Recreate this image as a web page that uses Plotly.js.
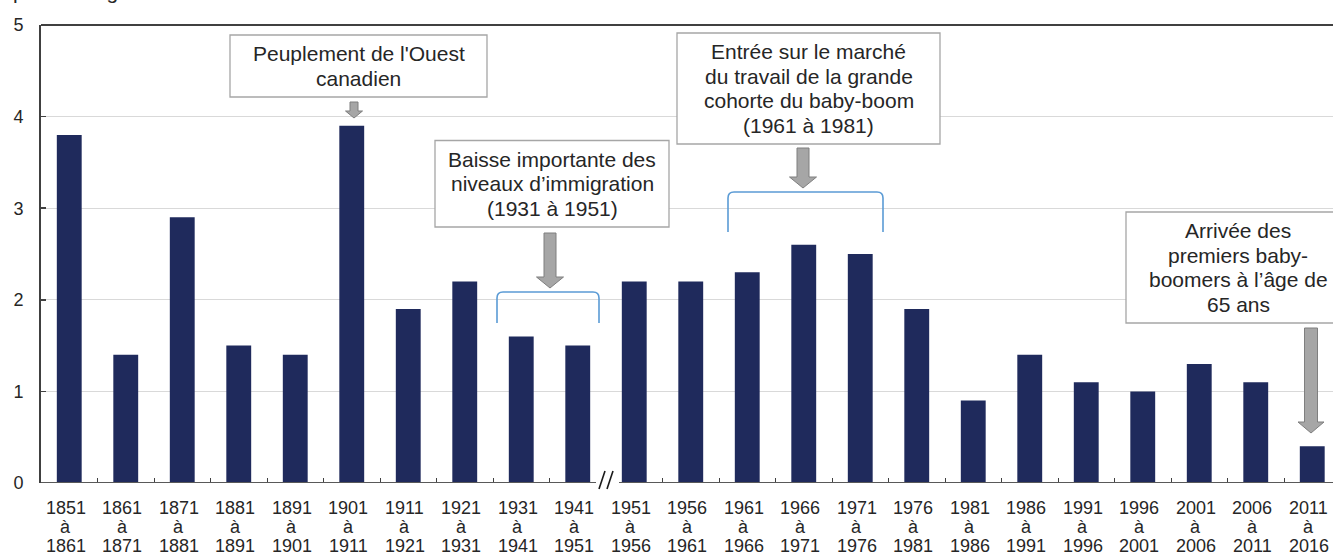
<!DOCTYPE html>
<html>
<head>
<meta charset="utf-8">
<script src="https://cdn.plot.ly/plotly-3.0.1.min.js"></script>
<style>html,body{margin:0;padding:0;background:#fff;overflow:hidden}</style>
</head>
<body>
<div id="chart" style="width:1333px;height:556px"></div>
<script>
// ---- data ----
const periodStart = ["1851","1861","1871","1881","1891","1901","1911","1921","1931","1941","1951","1956","1961","1966","1971","1976","1981","1986","1991","1996","2001","2006","2011"];
const periodEnd   = ["1861","1871","1881","1891","1901","1911","1921","1931","1941","1951","1956","1961","1966","1971","1976","1981","1986","1991","1996","2001","2006","2011","2016"];
const joinWord = "à";
const categories = periodStart.map((s, i) => s + " " + joinWord + " " + periodEnd[i]);
const values = [3.8, 1.4, 2.9, 1.5, 1.4, 3.9, 1.9, 2.2, 1.6, 1.5, 2.2, 2.2, 2.3, 2.6, 2.5, 1.9, 0.9, 1.4, 1.1, 1.0, 1.3, 1.1, 0.4];
const yTitle = "pourcentage";
const notes = [
  ["Peuplement de l'Ouest", "canadien"],
  ["Baisse importante des", "niveaux d’immigration", "(1931 à 1951)"],
  ["Entrée sur le marché", "du travail de la grande", "cohorte du baby-boom", "(1961 à 1981)"],
  ["Arrivée des", "premiers baby-", "boomers à l’âge de", "65 ans"]
];

// ---- layout helpers (pixel -> paper) ----
const W = 1333, H = 556, ML = 41, MT = 25, PW = 1292, PH = 458;
const xp = p => (p - ML) / PW;
const yp = p => (MT + PH - p) / PH;
const FONT = "Liberation Sans, Arial, sans-serif";
const TXT = "#262626";
const catW = 56.5;
const xIdx = categories.map((_, i) => i);
const breakAfter = 9; // axis break between 1941-1951 and 1951-1956

const shapes = [];
const annotations = [];

// frame top line
shapes.push({type:"line", xref:"paper", yref:"paper", x0:0, x1:1, y0:1, y1:1, line:{color:"#404040", width:2}});
// x axis line with break
shapes.push({type:"line", xref:"paper", yref:"y", x0:0, x1:xp(596), y0:0, y1:0, line:{color:"#595959", width:2}});
shapes.push({type:"line", xref:"paper", yref:"y", x0:xp(619), x1:1.05, y0:0, y1:0, line:{color:"#595959", width:2}});
function seg(x0,y0,x1,y1){return {type:"path", xref:"paper", yref:"paper", path:`M ${xp(x0)},${yp(y0)} L ${xp(x1)},${yp(y1)}`, line:{color:"#1a1a1a", width:1.6}};}
shapes.push(seg(599,489,605,471));
shapes.push(seg(607,489,613,471));

// brackets
function bracket(x0,x1,yt,yb,r){
  const P=(x,y)=>`${xp(x)},${yp(y)}`;
  return {type:"path", xref:"paper", yref:"paper",
    path:`M ${P(x0,yb)} L ${P(x0,yt+r)} Q ${P(x0,yt)} ${P(x0+r,yt)} L ${P(x1-r,yt)} Q ${P(x1,yt)} ${P(x1,yt+r)} L ${P(x1,yb)}`,
    line:{color:"#5b9bd5", width:1.6}};
}
shapes.push(bracket(497,599,292,323,6));
shapes.push(bracket(728,883,192,232,6));

// block arrows
function arrow(cx,top,bot,sw,hw,hh){
  const P=(x,y)=>`${xp(x)},${yp(y)}`;
  return {type:"path", xref:"paper", yref:"paper",
    path:`M ${P(cx-sw,top)} L ${P(cx+sw,top)} L ${P(cx+sw,bot-hh)} L ${P(cx+hw,bot-hh)} L ${P(cx,bot)} L ${P(cx-hw,bot-hh)} L ${P(cx-sw,bot-hh)} Z`,
    fillcolor:"#a6a6a6", line:{color:"#7f7f7f", width:1}};
}
shapes.push(arrow(354,102,118,4,8.5,7));
shapes.push(arrow(550,233,288,6,13.5,11));
shapes.push(arrow(803,148,188,6,13.5,11));
shapes.push(arrow(1311,328,433,6.5,13,11));

// callout boxes: [left, right, top, textCenterX]
const boxes = [[230,487,35,358.5],[435,669,140.5,552],[677,940,33,808.5],[1126,1350,212,1238]];
const lineH = 24.5, padV = 6.5;
boxes.forEach((b, k) => {
  const n = notes[k].length;
  const bottom = b[2] + 2*padV + n*lineH;
  shapes.push({type:"rect", xref:"paper", yref:"paper", x0:xp(b[0]), x1:xp(b[1]), y0:yp(bottom), y1:yp(b[2]),
    fillcolor:"#ffffff", line:{color:"#a6a6a6", width:1.3}});
  notes[k].forEach((t, j) => {
    annotations.push({xref:"paper", yref:"paper", x:xp(b[3]), y:yp(b[2] + padV + lineH*(j+0.5)),
      xanchor:"center", yanchor:"middle", showarrow:false, text:t, borderpad:0,
      font:{family:FONT, size:21, color:TXT}});
  });
});

// x tick labels (three lines each, tight spacing)
const labelCenters = [507.5, 526.5, 545.5];
categories.forEach((c, i) => {
  [periodStart[i], joinWord, periodEnd[i]].forEach((t, j) => {
    annotations.push({xref:"x", yref:"paper", x:xIdx[i], y:yp(labelCenters[j]), xshift:-3.5,
      xanchor:"center", yanchor:"middle", showarrow:false, text:t, borderpad:0,
      font:{family:FONT, size:18, color:TXT}});
  });
});

// partly visible unit label at the very top (cut by the frame edge, as in the source)
annotations.push({xref:"paper", yref:"paper", x:xp(12), y:yp(4.5), xanchor:"left", yanchor:"bottom",
  showarrow:false, text:yTitle, borderpad:0, font:{family:FONT, size:21, color:TXT}});

// tick marks at category boundaries (except at the break)
const boundaryTicks = xIdx.map(i => i + 0.5).filter(v => v !== breakAfter + 0.5);

const trace = {
  type:"bar", x:xIdx, y:values, width:0.44, text:categories, hoverinfo:"text+y", textposition:"none",
  marker:{color:"#1f2a5c", line:{width:0}}
};

const layout = {
  width:W, height:H,
  margin:{l:ML, r:W-ML-PW, t:MT, b:H-MT-PH, pad:0},
  paper_bgcolor:"#ffffff", plot_bgcolor:"#ffffff",
  showlegend:false,
  font:{family:FONT, size:18, color:TXT},
  xaxis:{type:"linear", range:[-0.5, -0.5 + PW/catW], showgrid:false, zeroline:false, showline:false,
    tickmode:"array", tickvals:boundaryTicks, ticktext:boundaryTicks.map(()=>""), showticklabels:false,
    ticks:"inside", ticklen:5, tickwidth:1, tickcolor:"#404040", fixedrange:true},
  yaxis:{range:[0,5], dtick:1, tick0:0, showgrid:true, gridcolor:"#d9d9d9", gridwidth:1, zeroline:false,
    showline:true, linecolor:"#404040", linewidth:2, ticks:"inside", ticklen:5, tickwidth:1.5, tickcolor:"#404040",
    tickfont:{family:FONT, size:18, color:TXT}, ticklabelstandoff:12, fixedrange:true},
  shapes:shapes,
  annotations:annotations
};

Plotly.newPlot("chart", [trace], layout, {displayModeBar:false, staticPlot:true});
</script>
</body>
</html>
